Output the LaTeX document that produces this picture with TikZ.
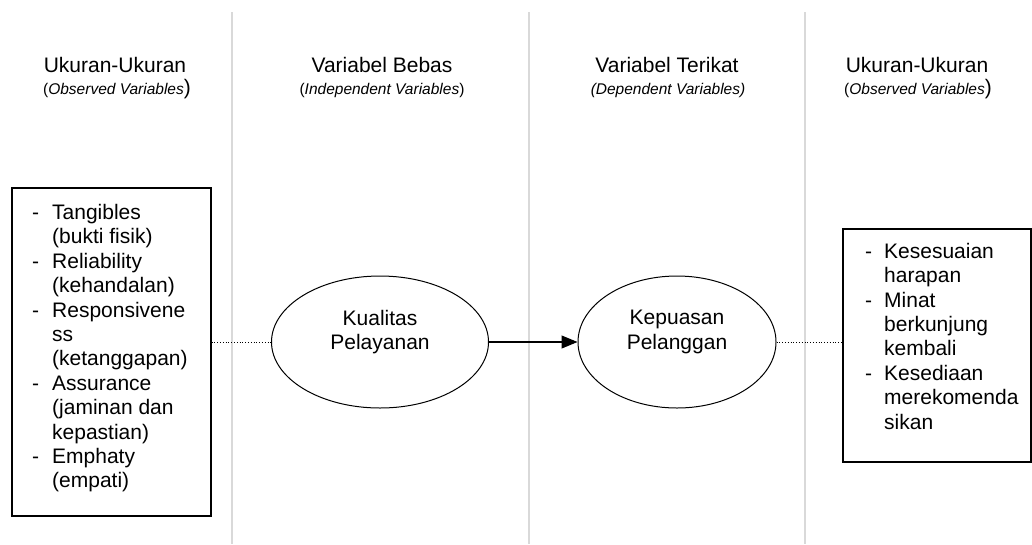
\documentclass[tikz,border=0pt]{standalone}
\usepackage{fontspec}
\setmainfont{Liberation Sans}
\usepackage{tikz}
\usetikzlibrary{arrows.meta, shapes.geometric}
\definecolor{sepGray}{HTML}{D9D9D9}
\newcommand{\bigsize}{\fontsize{21}{24.4}\selectfont}
\newcommand{\smallsize}{\fontsize{15.5}{18}\selectfont}

\begin{document}
\begin{tikzpicture}[x=1pt, y=-1pt,
    sep/.style={draw=sepGray, line width=1.5pt},
    head/.style={anchor=base, font=\bigsize, inner sep=0pt},
    subhead/.style={anchor=base, font=\smallsize, inner sep=0pt},
    obsbox/.style={draw, line width=1.1pt, inner sep=0pt},
    itemlist/.style={anchor=north west, font=\bigsize, inner sep=0pt},
    latent/.style={draw, ellipse, line width=1pt, inner sep=0pt, align=center, font=\bigsize},
    arr/.style={-{Triangle[length=16pt, width=13pt]}, line width=1.1pt},
    link/.style={dotted, line width=0.8pt},
  ]
    \useasboundingbox (0,0) rectangle (1032,544);

    \foreach \x in {232, 529, 805}
      \draw[sep] (\x,12) -- (\x,544);

    \node[head] (hObsL) at (115,72) {Ukuran-Ukuran};
    \node[subhead] (sObsL) at (117,94) {(\textit{Observed Variables}{\bigsize)}};
    \node[head] (hBebas) at (382,72) {Variabel Bebas};
    \node[subhead] (sBebas) at (382,94) {(\textit{Independent Variables})};
    \node[head] (hTerikat) at (667,72) {Variabel Terikat};
    \node[subhead] (sTerikat) at (668,94) {\textit{(Dependent Variables)}};
    \node[head] (hObsR) at (917,72) {Ukuran-Ukuran};
    \node[subhead] (sObsR) at (918,94) {(\textit{Observed Variables}{\bigsize)}};

    \node[obsbox, minimum width=199pt, minimum height=328pt] (obsL) at (111.5,352) {};
    \node[itemlist] (listL) at (32,202.2) {\begin{tabular}{@{}p{20pt}@{}l@{}}
      - & Tangibles \\
        & (bukti fisik) \\
      - & Reliability \\
        & (kehandalan) \\
      - & Responsivene \\
        & ss \\
        & (ketanggapan) \\
      - & Assurance \\
        & (jaminan dan \\
        & kepastian) \\
      - & Emphaty \\
        & (empati)
    \end{tabular}};

    \node[obsbox, minimum width=188pt, minimum height=233pt] (obsR) at (937,345.5) {};
    \node[itemlist] (listR) at (865,241) {\begin{tabular}{@{}p{19pt}@{}l@{}}
      - & Kesesuaian \\
        & harapan \\
      - & Minat \\
        & berkunjung \\
        & kembali \\
      - & Kesediaan \\
        & merekomenda \\
        & sikan
    \end{tabular}};

    \node[latent, minimum width=217pt, minimum height=132pt] (kualitas) at (380,342) {Kualitas\\Pelayanan\\\mbox{}};
    \node[latent, minimum width=198pt, minimum height=132pt] (kepuasan) at (677,342) {Kepuasan\\Pelanggan\\\mbox{}};

    \draw[arr] (kualitas.east) -- (kepuasan.west);
    \draw[link] (kualitas.west -| obsL.east) -- (kualitas.west);
    \draw[link] (kepuasan.east) -- (kepuasan.east -| obsR.west);
\end{tikzpicture}
\end{document}
